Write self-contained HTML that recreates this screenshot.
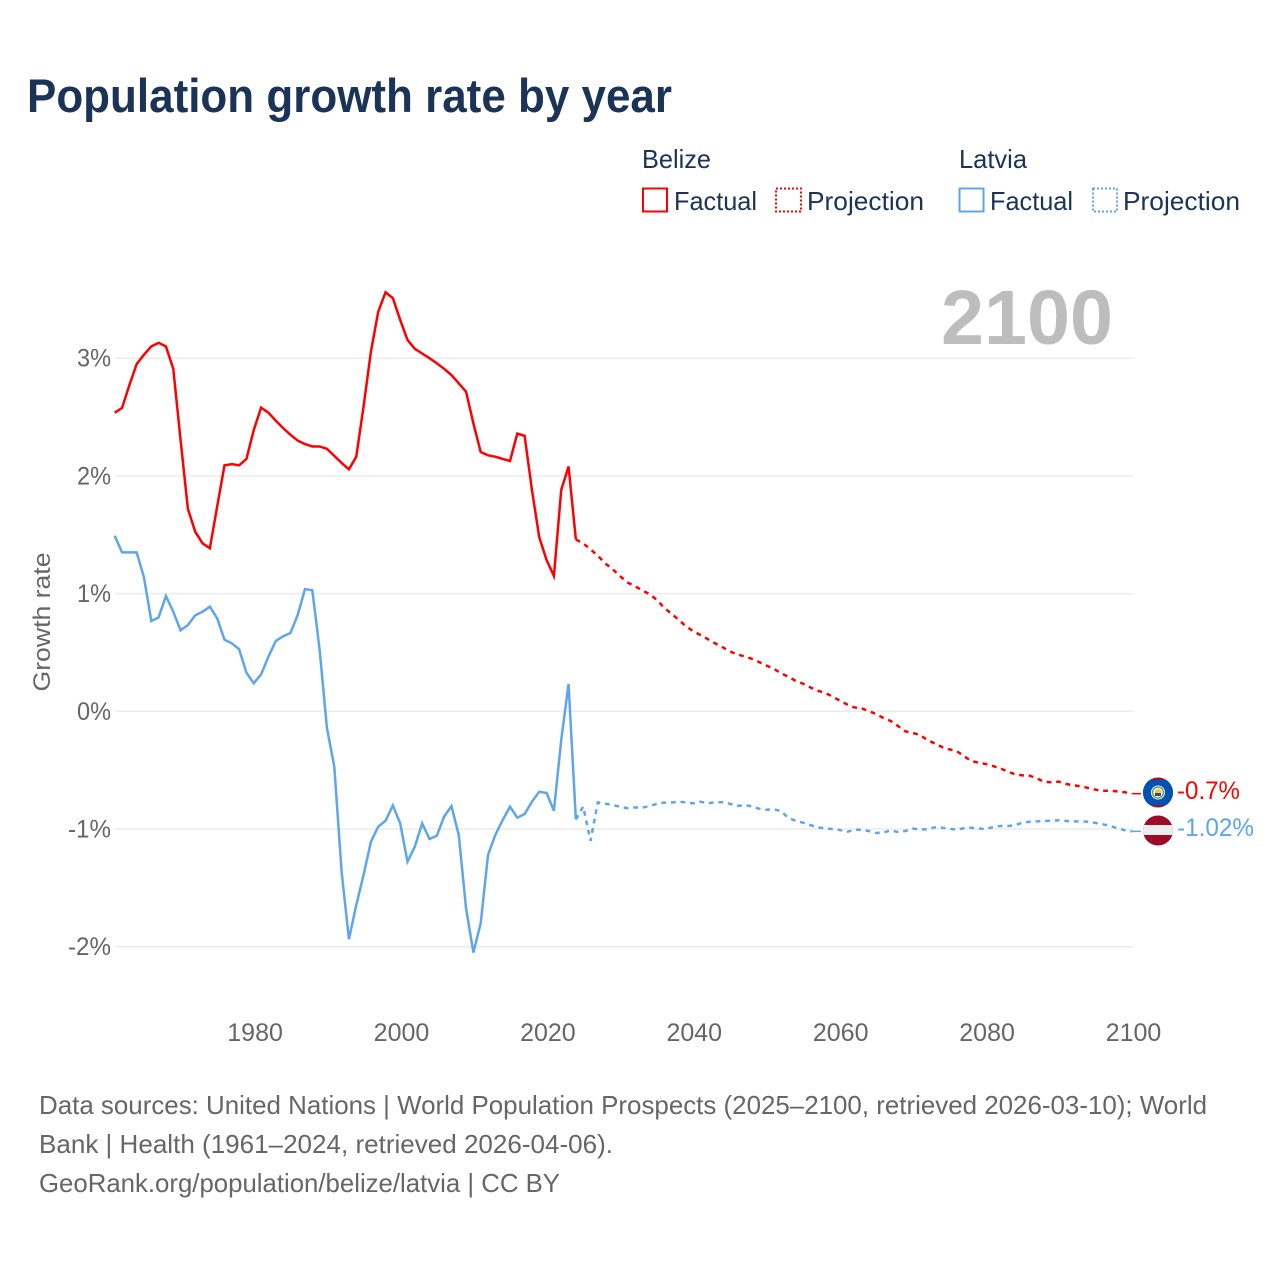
<!DOCTYPE html>
<html lang="en">
<head>
<meta charset="utf-8">
<title>Population growth rate by year</title>
<style>
html,body{margin:0;padding:0;background:#fff;}
svg{display:block;}
text{font-family:"Liberation Sans",sans-serif;}
</style>
</head>
<body>
<svg id="chart" width="1280" height="1280" viewBox="0 0 1280 1280" xmlns="http://www.w3.org/2000/svg">
  <text x="27" y="112" font-size="47" font-weight="700" fill="#1a3357" textLength="645" lengthAdjust="spacingAndGlyphs">Population growth rate by year</text>

  <g fill="#1a3357" font-size="26">
    <text x="642" y="168" textLength="69" lengthAdjust="spacingAndGlyphs">Belize</text>
    <rect x="643" y="188.500" width="24" height="23" fill="none" stroke="#ff0000" stroke-width="2"/>
    <text x="674" y="210" textLength="83" lengthAdjust="spacingAndGlyphs">Factual</text>
    <rect x="776" y="188.500" width="25" height="23" fill="none" stroke="#ff0000" stroke-width="2" stroke-dasharray="2 2"/>
    <text x="807" y="210" textLength="117" lengthAdjust="spacingAndGlyphs">Projection</text>
    <text x="959" y="168" textLength="68" lengthAdjust="spacingAndGlyphs">Latvia</text>
    <rect x="959.500" y="188.500" width="24" height="23" fill="none" stroke="#5ea5ec" stroke-width="2"/>
    <text x="990" y="210" textLength="83" lengthAdjust="spacingAndGlyphs">Factual</text>
    <rect x="1093" y="188.500" width="24" height="23" fill="none" stroke="#5ea5ec" stroke-width="2" stroke-dasharray="2 2"/>
    <text x="1123" y="210" textLength="117" lengthAdjust="spacingAndGlyphs">Projection</text>
  </g>

  <g id="grid"></g>
  <text x="941" y="344" font-size="77" font-weight="700" fill="#bdbdbd" textLength="172" lengthAdjust="spacingAndGlyphs">2100</text>
  <g id="yticks" fill="#666" font-size="25" text-anchor="end"></g>
  <g id="xticks" fill="#666" font-size="25" text-anchor="middle"></g>
  <text transform="translate(50,622) rotate(-90)" font-size="24" fill="#666" text-anchor="middle" textLength="139" lengthAdjust="spacingAndGlyphs">Growth rate</text>
  <g id="series"></g>

  <g>
    <clipPath id="bz-clip"><circle cx="1158" cy="792.500" r="15"/></clipPath>
    <g clip-path="url(#bz-clip)">
      <rect x="1143" y="777" width="30" height="31" fill="#9e1030"/>
      <rect x="1143" y="780" width="30" height="25" fill="#0053b5"/>
      <circle cx="1158" cy="792.500" r="7" fill="#fff"/>
      <circle cx="1158" cy="792.500" r="5.500" fill="none" stroke="#6f9c5a" stroke-width="1.500"/>
      <circle cx="1158" cy="792.500" r="3.500" fill="#e8c65a"/>
      <rect x="1155" y="793" width="6" height="3" fill="#35506e"/>
    </g>
  </g>
  <g>
    <clipPath id="lv-clip"><circle cx="1158" cy="830.500" r="15"/></clipPath>
    <g clip-path="url(#lv-clip)">
      <rect x="1143" y="815" width="30" height="31" fill="#9e0b29"/>
      <rect x="1143" y="825" width="30" height="10" fill="#ededed"/>
    </g>
  </g>
  <text id="end-label-belize" x="1177" y="799" font-size="25" fill="#ff0000" textLength="63" lengthAdjust="spacingAndGlyphs">-0.7%</text>
  <text id="end-label-latvia" x="1177" y="836" font-size="25" fill="#5ea5ec" textLength="77" lengthAdjust="spacingAndGlyphs">-1.02%</text>

  <g fill="#666" font-size="26">
    <text x="39" y="1114" textLength="1168" lengthAdjust="spacingAndGlyphs">Data sources: United Nations | World Population Prospects (2025–2100, retrieved 2026-03-10); World</text>
    <text x="39" y="1153" textLength="574" lengthAdjust="spacingAndGlyphs">Bank | Health (1961–2024, retrieved 2026-04-06).</text>
    <text x="39" y="1192" textLength="521" lengthAdjust="spacingAndGlyphs">GeoRank.org/population/belize/latvia | CC BY</text>
  </g>
</svg>
<script>
const xTickYears = [1980, 2000, 2020, 2040, 2060, 2080, 2100];
const yTickValues = [3, 2, 1, 0, -1, -2];
const factualStartYear = 1961;
const projectionStartYear = 2024;
const belizeFactual = [2.537,2.577,2.77,2.95,3.03,3.10,3.13,3.10,2.91,2.305,1.72,1.526,1.427,1.385,1.74,2.09,2.10,2.09,2.144,2.39,2.58,2.537,2.47,2.407,2.35,2.30,2.27,2.25,2.25,2.23,2.17,2.11,2.056,2.163,2.59,3.055,3.395,3.56,3.51,3.325,3.155,3.08,3.04,3.0,2.957,2.91,2.857,2.787,2.715,2.447,2.203,2.175,2.163,2.144,2.127,2.36,2.34,1.88,1.478,1.285,1.15,1.88,2.08,1.46];
const belizeProjection = [1.46,1.427,1.376,1.322,1.257,1.209,1.15,1.096,1.065,1.03,0.997,0.95,0.884,0.832,0.78,0.725,0.682,0.648,0.614,0.578,0.546,0.51,0.484,0.467,0.447,0.419,0.39,0.362,0.325,0.294,0.26,0.235,0.204,0.175,0.158,0.127,0.093,0.06,0.034,0.025,0.003,-0.023,-0.057,-0.082,-0.125,-0.17,-0.184,-0.2,-0.244,-0.272,-0.303,-0.323,-0.337,-0.38,-0.422,-0.436,-0.448,-0.465,-0.485,-0.513,-0.535,-0.544,-0.547,-0.57,-0.6,-0.603,-0.598,-0.618,-0.629,-0.637,-0.652,-0.666,-0.675,-0.675,-0.68,-0.688,-0.7];
const latviaFactual = [1.492,1.35,1.35,1.35,1.138,0.767,0.798,0.98,0.846,0.688,0.733,0.815,0.846,0.889,0.79,0.608,0.578,0.527,0.328,0.238,0.314,0.464,0.597,0.637,0.665,0.818,1.039,1.028,0.52,-0.145,-0.47,-1.363,-1.937,-1.646,-1.39,-1.108,-0.98,-0.93,-0.80,-0.952,-1.278,-1.15,-0.952,-1.085,-1.057,-0.895,-0.805,-1.05,-1.674,-2.05,-1.80,-1.22,-1.05,-0.924,-0.81,-0.904,-0.873,-0.768,-0.683,-0.694,-0.845,-0.244,0.232,-0.918];
const latviaProjection = [-0.918,-0.81,-1.10,-0.773,-0.785,-0.796,-0.81,-0.824,-0.816,-0.82,-0.805,-0.788,-0.776,-0.776,-0.768,-0.773,-0.782,-0.768,-0.782,-0.773,-0.773,-0.785,-0.805,-0.796,-0.807,-0.827,-0.836,-0.833,-0.847,-0.904,-0.93,-0.946,-0.966,-0.986,-0.994,-1.0,-1.008,-1.025,-1.006,-1.006,-1.017,-1.034,-1.03,-1.011,-1.025,-1.017,-0.997,-1.003,-1.003,-0.986,-0.989,-0.997,-1.006,-0.994,-0.989,-0.997,-1.0,-0.983,-0.974,-0.974,-0.969,-0.946,-0.938,-0.935,-0.932,-0.929,-0.926,-0.932,-0.935,-0.935,-0.938,-0.949,-0.96,-0.974,-0.994,-1.011,-1.02];

const NS = 'http://www.w3.org/2000/svg';
const xScale = year => 116 + (year - 1961) * (1133.5 - 116) / (2100 - 1961);
const markX = year => xScale(year) - 1.3;
const yScale = value => 711.3 - value * 117.7;

const gridLayer = document.getElementById('grid');
const yTickLayer = document.getElementById('yticks');
const xTickLayer = document.getElementById('xticks');
const seriesLayer = document.getElementById('series');

yTickValues.forEach(value => {
  const line = document.createElementNS(NS, 'line');
  
  
  line.setAttribute('x1', 115);
  line.setAttribute('x2', 1133.5);
  line.setAttribute('y1', yScale(value));
  line.setAttribute('y2', yScale(value));
  line.setAttribute('stroke', '#ececec');
  line.setAttribute('stroke-width', '1.5');
  gridLayer.appendChild(line);

  const label = document.createElementNS(NS, 'text');
  
  
  label.setAttribute('x', 111);
  label.setAttribute('y', yScale(value) + 8.5);
  label.setAttribute('textLength', value < 0 ? 43 : 34);
  label.setAttribute('lengthAdjust', 'spacingAndGlyphs');
  label.textContent = value + '%';
  yTickLayer.appendChild(label);
});

xTickYears.forEach(year => {
  const label = document.createElementNS(NS, 'text');
  
  
  label.setAttribute('x', xScale(year));
  label.setAttribute('y', 1041);
  label.textContent = year;
  xTickLayer.appendChild(label);
});

function drawSeries(values, startYear, color, dashed, name) {
  const points = values.map((value, i) => markX(startYear + i).toFixed(2) + ',' + yScale(value).toFixed(2)).join(' ');
  const line = document.createElementNS(NS, 'polyline');
  
  
  line.setAttribute('points', points);
  line.setAttribute('fill', 'none');
  line.setAttribute('stroke', color);
  line.setAttribute('stroke-width', '2.5');
  line.setAttribute('stroke-linejoin', 'miter');
  if (dashed) line.setAttribute('stroke-dasharray', '4.8 4.8');
  seriesLayer.appendChild(line);
}

function drawLeader(values, color, name) {
  const last = values[values.length - 1];
  const leader = document.createElementNS(NS, 'line');
  
  
  leader.setAttribute('x1', markX(2100));
  leader.setAttribute('x2', 1141);
  leader.setAttribute('y1', yScale(last));
  leader.setAttribute('y2', yScale(last));
  leader.setAttribute('stroke', color);
  leader.setAttribute('stroke-width', '1.5');
  seriesLayer.appendChild(leader);
}

drawSeries(latviaFactual, factualStartYear, '#5ea5ec', false, 'latvia-factual-line');
drawSeries(latviaProjection, projectionStartYear, '#5ea5ec', true, 'latvia-projection-line');
drawLeader(latviaProjection, '#5ea5ec', 'latvia-flag-leader');
drawSeries(belizeFactual, factualStartYear, '#ff0000', false, 'belize-factual-line');
drawSeries(belizeProjection, projectionStartYear, '#ff0000', true, 'belize-projection-line');
drawLeader(belizeProjection, '#ff0000', 'belize-flag-leader');
</script>
</body>
</html>
